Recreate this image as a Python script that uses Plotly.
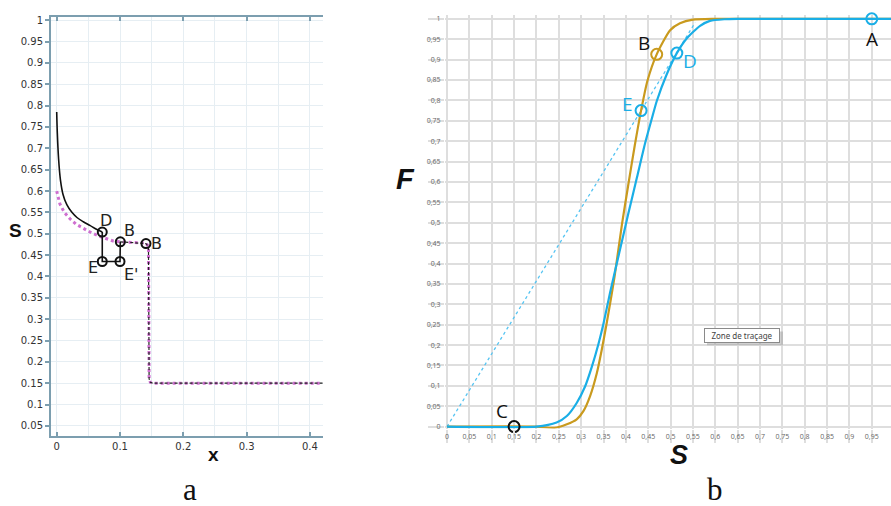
import plotly.graph_objects as go

W, H = 891, 506

# ---------------- panel a data ----------------
a_xtick_vals = [0, 0.1, 0.2, 0.3, 0.4]
a_xtick_text = ["0", "0.1", "0.2", "0.3", "0.4"]
a_xgrid_vals = [0.05, 0.15, 0.25, 0.35]
a_ytick_vals = [0.05, 0.1, 0.15, 0.2, 0.25, 0.3, 0.35, 0.4, 0.45, 0.5,
                0.55, 0.6, 0.65, 0.7, 0.75, 0.8, 0.85, 0.9, 0.95, 1.0]
a_ytick_text = ["0.05", "0.1", "0.15", "0.2", "0.25", "0.3", "0.35", "0.4", "0.45", "0.5",
                "0.55", "0.6", "0.65", "0.7", "0.75", "0.8", "0.85", "0.9", "0.95", "1"]

a_solid_x = [0.0, 0.001, 0.003, 0.006, 0.010, 0.016, 0.024, 0.032, 0.042, 0.053, 0.062, 0.072]
a_solid_y = [0.785, 0.735, 0.675, 0.625, 0.592, 0.568, 0.550, 0.538, 0.528, 0.519, 0.511, 0.504]

a_pink_x = [0.0, 0.005, 0.012, 0.021, 0.031, 0.042, 0.055, 0.068, 0.080, 0.089, 0.1005,
            0.120, 0.141, 0.145, 0.146, 0.148, 0.152, 0.42]
a_pink_y = [0.600, 0.570, 0.550, 0.535, 0.522, 0.512, 0.502, 0.494, 0.488, 0.483, 0.481,
            0.479, 0.478, 0.470, 0.160, 0.152, 0.150, 0.150]

a_dash_x = [0.1005, 0.141, 0.145, 0.146, 0.148, 0.152, 0.42]
a_dash_y = [0.481, 0.477, 0.470, 0.160, 0.152, 0.150, 0.150]

a_path_x = [0.072, 0.072, 0.1, 0.1005]
a_path_y = [0.504, 0.435, 0.435, 0.481]

a_pt_names = ["D", "B", "B", "E", "E'"]
a_pt_x = [0.072, 0.1005, 0.141, 0.072, 0.1]
a_pt_y = [0.504, 0.481, 0.477, 0.435, 0.435]

# ---------------- panel b data ----------------
b_tick_vals = [0, 0.05, 0.1, 0.15, 0.2, 0.25, 0.3, 0.35, 0.4, 0.45, 0.5,
               0.55, 0.6, 0.65, 0.7, 0.75, 0.8, 0.85, 0.9, 0.95, 1.0]
b_tick_text = ["0", "0,05", "0,1", "0,15", "0,2", "0,25", "0,3", "0,35", "0,4", "0,45", "0,5",
               "0,55", "0,6", "0,65", "0,7", "0,75", "0,8", "0,85", "0,9", "0,95", "1"]

s_gold = [0, 0.20, 0.24, 0.268, 0.29, 0.305, 0.32, 0.335, 0.346, 0.357, 0.366, 0.375,
          0.3915, 0.405, 0.42, 0.434, 0.448, 0.469, 0.499, 0.521, 0.55, 0.6, 0.993]
f_gold = [0, 0, -0.003, 0.006, 0.018, 0.038, 0.075, 0.131, 0.188, 0.253, 0.31, 0.37,
          0.498, 0.59, 0.69, 0.775, 0.847, 0.913, 0.972, 0.989, 0.998, 1.0, 1.0]

s_blue = [0, 0.20, 0.245, 0.268, 0.29, 0.309, 0.324, 0.339, 0.35, 0.365, 0.385, 0.405,
          0.425, 0.443, 0.458, 0.469, 0.491, 0.514, 0.536, 0.566, 0.588, 0.62, 0.65, 0.993]
f_blue = [0, 0, 0.01, 0.026, 0.058, 0.099, 0.147, 0.204, 0.253, 0.33, 0.425, 0.52,
          0.612, 0.695, 0.755, 0.798, 0.863, 0.916, 0.952, 0.983, 0.995, 0.999, 1.0, 1.0]

s_tangent = [0, 0.555]
f_tangent = [0, 0.991]

b_pt_names = ["A", "B", "C", "D", "E"]
b_pt_s = [0.95, 0.469, 0.15, 0.514, 0.434]
b_pt_f = [1.0, 0.913, 0.0, 0.916, 0.775]

# ---------------- styles ----------------
GOLD = "#C99A1E"
BLUE = "#1AAEE6"
PINK = "#CF6FD0"
AXIS_A = "#7C9EAF"
GRID_A = "#E6EEF3"
GRID_B = "#DEDEDE"

b_pt_marker_colors = ["#1AAEE6", GOLD, "#111111", BLUE, BLUE]
b_pt_text_colors = ["#111111", "#111111", "#111111", BLUE, BLUE]
b_pt_shift = [(0, -20), (-13, 11), (-12, 16), (13, -8), (-14, 7)]
a_pt_shift = [(4, 12), (9, 11), (11, 0), (-9, -6), (11, -13)]

fig = go.Figure()

# panel a
fig.add_trace(go.Scatter(x=a_pink_x, y=a_pink_y, mode="lines",
                         line=dict(color=PINK, width=3, dash="dot"), xaxis="x", yaxis="y"))
fig.add_trace(go.Scatter(x=a_solid_x, y=a_solid_y, mode="lines",
                         line=dict(color="#111111", width=1.6, shape="spline"), xaxis="x", yaxis="y"))
fig.add_trace(go.Scatter(x=a_dash_x, y=a_dash_y, mode="lines",
                         line=dict(color="#222222", width=1.2, dash="3px,2px"), xaxis="x", yaxis="y"))
fig.add_trace(go.Scatter(x=a_path_x, y=a_path_y, mode="lines",
                         line=dict(color="#111111", width=1.6), xaxis="x", yaxis="y"))
fig.add_trace(go.Scatter(x=a_pt_x, y=a_pt_y, mode="markers", cliponaxis=False,
                         marker=dict(symbol="circle-open", size=9, color="#111111",
                                     line=dict(width=2)), xaxis="x", yaxis="y"))

# panel b
fig.add_trace(go.Scatter(x=s_tangent, y=f_tangent, mode="lines",
                         line=dict(color="#55C4F2", width=1.3, dash="3px,3px"), xaxis="x2", yaxis="y2"))
fig.add_trace(go.Scatter(x=s_gold, y=f_gold, mode="lines",
                         line=dict(color=GOLD, width=2.2, shape="spline", smoothing=0.6),
                         xaxis="x2", yaxis="y2"))
fig.add_trace(go.Scatter(x=s_blue, y=f_blue, mode="lines",
                         line=dict(color=BLUE, width=2.2, shape="spline", smoothing=0.6),
                         xaxis="x2", yaxis="y2"))
fig.add_trace(go.Scatter(x=b_pt_s, y=b_pt_f, mode="markers", cliponaxis=False,
                         marker=dict(symbol="circle-open", size=11, color=b_pt_marker_colors,
                                     line=dict(width=2)), xaxis="x2", yaxis="y2"))

annotations = []
for n, x, y, (dx, dy) in zip(a_pt_names, a_pt_x, a_pt_y, a_pt_shift):
    annotations.append(dict(x=x, y=y, xref="x", yref="y", text=n, showarrow=False,
                            xshift=dx, yshift=dy,
                            font=dict(family="DejaVu Sans", size=16, color="#222222")))
for n, x, y, c, (dx, dy) in zip(b_pt_names, b_pt_s, b_pt_f, b_pt_text_colors, b_pt_shift):
    annotations.append(dict(x=x, y=y, xref="x2", yref="y2", text=n, showarrow=False,
                            xshift=dx, yshift=dy,
                            font=dict(family="Open Sans", size=19, color=c)))


def P(px, py):
    return px / W, 1 - py / H


def txt(px, py, text, font, yanchor="middle"):
    x, y = P(px, py)
    annotations.append(dict(x=x, y=y, xref="paper", yref="paper", text=text,
                            showarrow=False, xanchor="center", yanchor=yanchor, font=font))


txt(15, 230, "<b>S</b>", dict(family="Liberation Sans", size=19, color="#111111"))
txt(213, 456, "<b>x</b>", dict(family="Liberation Sans", size=19, color="#111111"))
txt(190, 506, "a", dict(family="Liberation Serif", size=31, color="#111111"), yanchor="bottom")
txt(405, 178, "<b><i>F</i></b>", dict(family="Liberation Sans", size=29, color="#111111"))
txt(679, 457, "<b><i>S</i></b>", dict(family="Liberation Sans", size=27, color="#111111"))
txt(715, 506, "b", dict(family="Liberation Serif", size=31, color="#111111"), yanchor="bottom")
# push the two panel letters down onto the reference baseline
annotations[-4]["yshift"] = -5
annotations[-1]["yshift"] = -5

# "Zone de traçage" tooltip
sx0, sy0 = P(707, 346)
sx1, sy1 = P(783, 332)
shapes = [dict(type="rect", xref="paper", yref="paper", x0=sx0, x1=sx1, y0=sy0, y1=sy1,
               line=dict(width=0), fillcolor="rgba(150,150,150,0.45)", layer="above")]
zx, zy = P(742, 336)
annotations.append(dict(x=zx, y=zy, xref="paper", yref="paper", text="Zone de traçage",
                        showarrow=False, xanchor="center", yanchor="middle",
                        width=72, height=11, borderpad=1,
                        bgcolor="white", bordercolor="#8a8a8a", borderwidth=1,
                        font=dict(family="Noto Sans", size=8, color="#444444")))

fig.update_layout(
    width=W, height=H, margin=dict(l=0, r=0, t=0, b=0),
    paper_bgcolor="white", plot_bgcolor="white", showlegend=False,
    xaxis=dict(domain=[51 / W, 323 / W], range=[-0.009, 0.4207], anchor="y",
               tickmode="array", tickvals=a_xtick_vals, ticktext=a_xtick_text,
               ticks="inside", ticklen=4, tickwidth=1.5, tickcolor=AXIS_A,
               showline=True, linecolor=AXIS_A, linewidth=2, mirror="ticks",
               showgrid=True, gridcolor=GRID_A, gridwidth=1, zeroline=False,
               minor=dict(tickvals=a_xgrid_vals, showgrid=True, gridcolor=GRID_A, ticks=""),
               tickfont=dict(family="DejaVu Sans", size=10, color="#333333")),
    yaxis=dict(domain=[1 - 437 / H, 1 - 15 / H], range=[0.0275, 1.0077], anchor="x",
               tickmode="array", tickvals=a_ytick_vals, ticktext=a_ytick_text,
               ticks="outside", ticklen=4, tickwidth=1.5, tickcolor=AXIS_A,
               showline=True, linecolor=AXIS_A, linewidth=2,
               showgrid=True, gridcolor=GRID_A, gridwidth=1, zeroline=False,
               tickfont=dict(family="DejaVu Sans", size=10, color="#333333")),
    xaxis2=dict(domain=[445 / W, 1.0], range=[-0.0045, 0.993], anchor="y2",
                tickmode="array", tickvals=b_tick_vals, ticktext=b_tick_text,
                ticks="outside", ticklen=13, tickwidth=1.5, tickcolor=GRID_B,
                ticklabelstandoff=-12,
                showline=False, showgrid=True, gridcolor=GRID_B, gridwidth=1.5, zeroline=False,
                tickfont=dict(family="Open Sans", size=7, color="#666666")),
    yaxis2=dict(domain=[1 - 430 / H, 1 - 13 / H], range=[-0.0049, 1.0097], anchor="x2",
                tickmode="array", tickvals=b_tick_vals, ticktext=b_tick_text,
                ticks="outside", ticklen=16, tickwidth=1.5, tickcolor=GRID_B,
                ticklabelstandoff=-14,
                showline=False, showgrid=True, gridcolor=GRID_B, gridwidth=1.5, zeroline=False,
                tickfont=dict(family="Open Sans", size=7, color="#666666")),
    annotations=annotations, shapes=shapes,
)

fig.write_html("out.html")
